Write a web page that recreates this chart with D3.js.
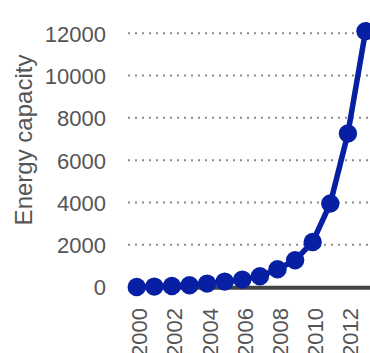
<!DOCTYPE html>
<html>
<head>
<meta charset="utf-8">
<script src="https://cdn.jsdelivr.net/npm/d3@7"></script>
<style>
  html, body { margin: 0; padding: 0; background: #fff; overflow: hidden; }
  svg { display: block; }
  text { font-family: "Liberation Sans", Arial, sans-serif; }
</style>
</head>
<body>
<svg id="chart" width="370" height="353"></svg>
<script>
const years = [2000, 2001, 2002, 2003, 2004, 2005, 2006, 2007, 2008, 2009, 2010, 2011, 2012, 2013];
const capacity = [0, 20, 50, 80, 160, 255, 350, 505, 840, 1265, 2130, 3950, 7260, 12100];
const yTicks = [0, 2000, 4000, 6000, 8000, 10000, 12000];
const xTicks = [2000, 2002, 2004, 2006, 2008, 2010, 2012];
const yTitle = "Energy capacity";

const svg = d3.select("#chart");
const x = d3.scaleLinear().domain([2000, 2013]).range([136.7, 365.5]);
const y = d3.scaleLinear().domain([0, 12000]).range([287, 33.3]);
const plotLeft = 128, plotRight = 400;
const textColor = "#555";
const blue = "#0720a3";

// dotted gridlines
svg.append("g").selectAll("line")
  .data(yTicks.filter(d => d !== 0))
  .join("line")
  .attr("x1", plotLeft).attr("x2", plotRight)
  .attr("y1", d => y(d)).attr("y2", d => y(d))
  .attr("stroke", "#8a8a8a")
  .attr("stroke-width", 2)
  .attr("stroke-dasharray", "2,5");

// baseline
svg.append("line")
  .attr("x1", plotLeft).attr("x2", plotRight)
  .attr("y1", y(0) + 0.8).attr("y2", y(0) + 0.8)
  .attr("stroke", "#444")
  .attr("stroke-width", 4);

// y axis labels
const yAxis = d3.axisLeft(y).tickValues(yTicks).tickSize(0).tickPadding(0).tickFormat(d3.format("d"));
const gy = svg.append("g").attr("transform", "translate(106,0)").call(yAxis);
gy.select(".domain").remove();
gy.selectAll("text")
  .attr("fill", textColor)
  .attr("font-size", 22)
  .attr("font-family", "Liberation Sans, Arial, sans-serif")
  .attr("dy", "0.36em");

// x axis labels
const xAxis = d3.axisBottom(x).tickValues(xTicks).tickSize(0).tickPadding(0).tickFormat(d3.format("d"));
const gx = svg.append("g").attr("transform", "translate(0,308)").call(xAxis);
gx.select(".domain").remove();
gx.selectAll("text")
  .attr("fill", textColor)
  .attr("font-size", 22)
  .attr("font-family", "Liberation Sans, Arial, sans-serif")
  .attr("text-anchor", "end")
  .attr("transform", "rotate(-90)")
  .attr("x", 0)
  .attr("y", 0)
  .attr("dy", "0.45em");

// y title
svg.append("text")
  .attr("transform", "translate(32,140) rotate(-90)")
  .attr("text-anchor", "middle")
  .attr("fill", textColor)
  .attr("font-size", 24)
  .text(yTitle);

// line
const data = years.map((yr, i) => ({ yr, v: capacity[i] }));
svg.append("path")
  .datum(data)
  .attr("fill", "none")
  .attr("stroke", blue)
  .attr("stroke-width", 5.5)
  .attr("stroke-linejoin", "round")
  .attr("d", d3.line().x(d => x(d.yr)).y(d => y(d.v)));

// points
svg.append("g").selectAll("circle")
  .data(data)
  .join("circle")
  .attr("cx", d => x(d.yr))
  .attr("cy", d => y(d.v))
  .attr("r", 9.2)
  .attr("fill", blue);
</script>
</body>
</html>
